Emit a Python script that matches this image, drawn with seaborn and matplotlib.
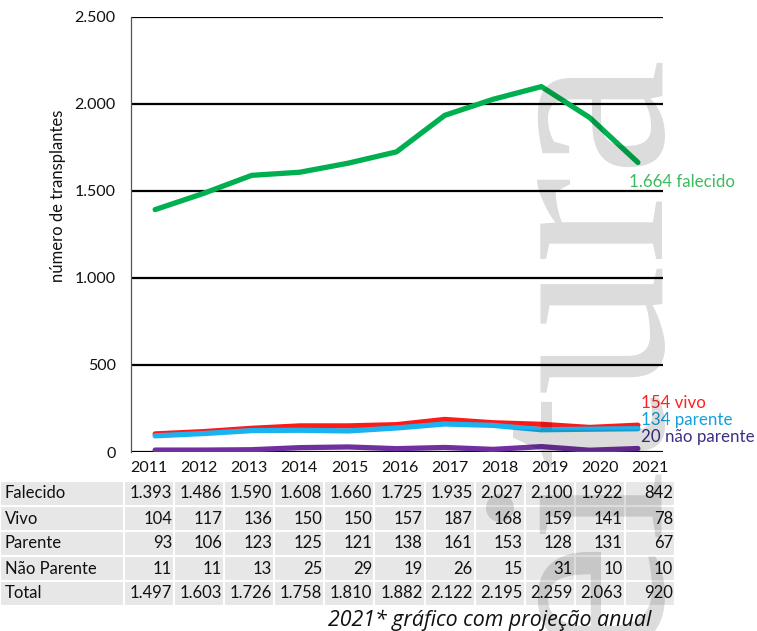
import matplotlib
matplotlib.use("Agg")
import matplotlib.pyplot as plt
import seaborn as sns
import pandas as pd
from matplotlib.table import Table

# ---------------- data ----------------
years = [2011, 2012, 2013, 2014, 2015, 2016, 2017, 2018, 2019, 2020, 2021]
falecido = [1393, 1486, 1590, 1608, 1660, 1725, 1935, 2027, 2100, 1922, 842]
vivo = [104, 117, 136, 150, 150, 157, 187, 168, 159, 141, 78]
parente = [93, 106, 123, 125, 121, 138, 161, 153, 128, 131, 67]
nao_parente = [11, 11, 13, 25, 29, 19, 26, 15, 31, 10, 10]
total = [1497, 1603, 1726, 1758, 1810, 1882, 2122, 2195, 2259, 2063, 920]
# annual projection for 2021 used by the chart lines
proj_2021 = {"falecido": 1664, "vivo": 154, "parente": 134, "nao_parente": 20}

row_names = ["Falecido", "Vivo", "Parente", "Não Parente", "Total"]
y_ticks = [0, 500, 1000, 1500, 2000, 2500]
y_ticklabels = ["0", "500", "1.000", "1.500", "2.000", "2.500"]

def fmt(v):
    return f"{v:,}".replace(",", ".")

sns.set_theme(style="white")
plt.rcParams["font.family"] = ["Lato", "DejaVu Sans"]

W, H = 757, 631
fig = plt.figure(figsize=(W / 100, H / 100), dpi=100)

ax = fig.add_axes([131 / W, 1 - 452 / H, (663 - 131) / W, (452 - 17) / H])
ax.set_facecolor("none")

series = [
    ("falecido", falecido, "#00b050", "#3dbb5e", "falecido", (-9, -20)),
    ("vivo", vivo, "#ff1a1a", "#ff2020", "vivo", (3, 22)),
    ("parente", parente, "#1ab3ef", "#149fdc", "parente", (3, 9)),
    ("nao_parente", nao_parente, "#7030a0", "#3b2f86", "não parente", (3, 12)),
]

for key, vals, col, lcol, name, off in series:
    line_vals = vals[:-1] + [proj_2021[key]]
    df = pd.DataFrame({"ano": years, "valor": line_vals})
    sns.lineplot(data=df, x="ano", y="valor", color=col, linewidth=3.8,
                 ax=ax, zorder=3, solid_capstyle="round")
    ax.annotate(f"{fmt(proj_2021[key])} {name}", xy=(years[-1], proj_2021[key]),
                xytext=off, textcoords="offset pixels", color=lcol,
                fontsize=12.2, ha="left", va="center", annotation_clip=False)

ax.set_xlim(years[0] - 0.5, years[-1] + 0.52)
ax.set_ylim(0, 2500)
ax.set_yticks(y_ticks)
ax.set_yticklabels(y_ticklabels, fontsize=11.5, color="#111111")
ax.set_xticks([])
ax.set_xlabel("")
ax.set_ylabel("número de transplantes", fontsize=12, color="#111111")
ax.yaxis.set_label_coords((66 - 131) / 532, (452 - 196) / 435)
ax.tick_params(axis="y", length=0, pad=11)
for yv in y_ticks:
    ax.axhline(yv, color="black", linewidth=1.6, zorder=1)
for s in ["top", "right", "bottom"]:
    ax.spines[s].set_visible(False)
ax.spines["left"].set_color("#555555")
ax.spines["left"].set_linewidth(0.9)

# ---------------- table ----------------
tax = fig.add_axes([0, 1 - 606 / H, 675 / W, 150 / H])
tax.axis("off")
tbl = Table(tax, bbox=[0, 0, 1, 1])
label_w = 124
col_w = (675 - label_w) / len(years)
rows = [falecido, vivo, parente, nao_parente, total]
nrows = len(rows) + 1
rh = 1 / nrows
tbl.auto_set_font_size(False)
# header
c = tbl.add_cell(0, 0, width=label_w, height=rh, text="", loc="left",
                 facecolor="none", edgecolor="none")
for j, yr in enumerate(years):
    c = tbl.add_cell(0, j + 1, width=col_w, height=rh, text=str(yr), loc="center",
                     facecolor="none", edgecolor="none")
    c.get_text().set_fontsize(11.5)
for i, (nm, vals) in enumerate(zip(row_names, rows)):
    c = tbl.add_cell(i + 1, 0, width=label_w, height=rh, text=nm, loc="left",
                     facecolor="#e7e7e7", edgecolor="white")
    c.PAD = 0.04
    c.set_linewidth(1.5)
    c.get_text().set_fontsize(12)
    for j, v in enumerate(vals):
        c = tbl.add_cell(i + 1, j + 1, width=col_w, height=rh, text=fmt(v), loc="right",
                         facecolor="#e7e7e7", edgecolor="white")
        c.PAD = 0.04
        c.set_linewidth(1.5)
        c.get_text().set_fontsize(12)
for cell in tbl.get_celld().values():
    cell.get_text().set_color("#111111")
tax.add_table(tbl)

fig.text(490 / W, 1 - 620 / H, "2021* gráfico com projeção anual", fontsize=15.4,
         style="italic", family=["Open Sans", "DejaVu Sans"],
         ha="center", va="center", color="#111111")

# watermark
fig.text(712 / W, 1 - 50 / H, "Leitura", fontsize=190, family="Liberation Serif",
         rotation=90, ha="right", va="top", color=(0, 0, 0, 0.14), zorder=10)

fig.savefig("out.png", dpi=100)
